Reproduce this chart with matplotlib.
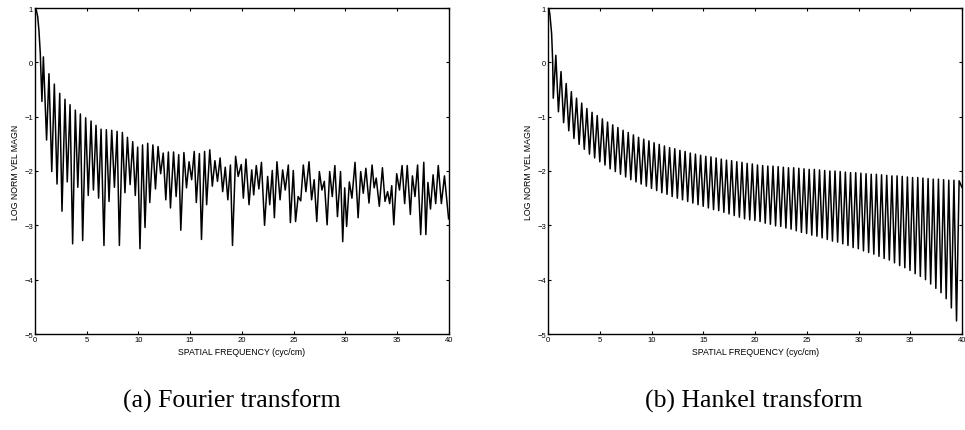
import numpy as np
import matplotlib
matplotlib.use("Agg")
import matplotlib.pyplot as plt

plt.rcParams["font.family"] = ["Liberation Sans", "DejaVu Sans"]

# ── Fourier transform panel: main lobe + local maxima / minima ───────────────
FT_LOBE_F = [0.0, 0.13, 0.26, 0.38, 0.51, 0.61]
FT_LOBE_V = [1.0, 0.96, 0.84, 0.59, 0.17, -0.39]

FT_PEAK_F = [0.81, 1.35, 1.87, 2.39, 2.90, 3.39, 3.90, 4.39, 4.90, 5.42,
             5.90, 6.39, 6.90, 7.42, 7.94, 8.45, 8.94, 9.45, 9.93, 10.4,
             10.9, 11.4, 11.9, 12.4, 12.9, 13.4, 13.9, 14.4, 14.9, 15.4,
             15.9, 16.4, 16.9, 17.4, 17.9, 18.4, 18.9, 19.4, 19.95, 20.4,
             20.96, 21.4, 21.9, 22.5, 22.95, 23.4, 23.95, 24.5, 24.98, 25.45,
             25.95, 26.5, 27.0, 27.5, 27.98, 28.5, 29.0, 29.55, 29.95, 30.4,
             30.95, 31.5, 32.0, 32.6, 33.0, 33.6, 34.1, 34.5, 34.98, 35.5,
             36.0, 36.5, 37.0, 37.6, 38.0, 38.5, 39.0, 39.6]
FT_PEAK_V = [0.10, -0.21, -0.40, -0.57, -0.68, -0.78, -0.88, -0.95, -1.02, -1.08,
             -1.16, -1.23, -1.24, -1.25, -1.27, -1.29, -1.38, -1.46, -1.56, -1.52,
             -1.49, -1.52, -1.55, -1.67, -1.65, -1.65, -1.70, -1.66, -1.83, -1.64,
             -1.68, -1.64, -1.61, -1.81, -1.76, -1.93, -1.89, -1.73, -1.88, -1.78,
             -1.98, -1.90, -1.84, -2.10, -1.99, -1.83, -1.98, -1.89, -1.99, -2.47,
             -1.89, -1.83, -2.16, -2.01, -2.19, -2.01, -1.90, -2.01, -2.31, -2.20,
             -1.84, -2.01, -1.95, -1.89, -2.13, -1.94, -2.38, -2.27, -2.05, -1.90,
             -1.90, -2.09, -1.89, -1.84, -2.21, -2.07, -1.90, -2.09]

FT_TROUGH_F = [0.67, 1.12, 1.62, 2.13, 2.61, 3.12, 3.64, 4.14, 4.61, 5.15,
               5.65, 6.15, 6.67, 7.16, 7.68, 8.16, 8.70, 9.20, 9.70, 10.15,
               10.64, 11.10, 11.65, 12.15, 12.65, 13.10, 13.65, 14.10, 14.65, 15.15,
               15.60, 16.10, 16.60, 17.15, 17.65, 18.15, 18.65, 19.10, 19.65, 20.15,
               20.70, 21.15, 21.65, 22.20, 22.70, 23.15, 23.70, 24.20, 24.70, 25.20,
               25.70, 26.20, 26.75, 27.25, 27.75, 28.25, 28.75, 29.25, 29.76, 30.14,
               30.65, 31.25, 31.75, 32.30, 32.80, 33.30, 33.85, 34.30, 34.70, 35.25,
               35.75, 36.30, 36.75, 37.30, 37.80, 38.25, 38.75, 39.30, 40.0]
FT_TROUGH_V = [-0.72, -1.43, -2.01, -2.24, -2.74, -2.20, -3.34, -2.30, -3.28, -2.45,
               -2.35, -2.50, -3.37, -2.56, -2.30, -3.37, -2.40, -2.25, -2.45, -3.43,
               -3.04, -2.58, -2.33, -2.05, -2.53, -2.68, -2.47, -3.09, -2.31, -2.16,
               -2.58, -3.26, -2.62, -2.28, -2.19, -2.38, -2.53, -3.37, -2.10, -2.50,
               -2.62, -2.44, -2.33, -3.00, -2.62, -2.86, -2.53, -2.35, -2.95, -2.93,
               -2.55, -2.38, -2.53, -2.93, -2.35, -2.99, -2.47, -2.84, -3.30, -3.02,
               -2.50, -2.86, -2.41, -2.59, -2.31, -2.65, -2.56, -2.60, -2.99, -2.35,
               -2.60, -2.80, -2.47, -3.17, -3.17, -2.70, -2.60, -2.60, -2.88]

# ── Hankel transform panel ───────────────────────────────────────────────────
HT_LOBE_F = [0.0, 0.08, 0.16, 0.32, 0.42]
HT_LOBE_V = [1.0, 0.97, 0.87, 0.53, 0.04]

HT_PEAK_START, HT_TROUGH_START, HT_SPACING = 0.73, 0.48, 0.5
HT_PEAK_V = [0.13, -0.17, -0.39, -0.54, -0.66, -0.75, -0.85, -0.92, -0.98, -1.04,
             -1.10, -1.15, -1.20, -1.25, -1.29, -1.335, -1.38, -1.415, -1.445, -1.48,
             -1.51, -1.54, -1.57, -1.59, -1.62, -1.64, -1.67, -1.69, -1.71, -1.73,
             -1.74, -1.76, -1.78, -1.80, -1.81, -1.83, -1.84, -1.86, -1.87, -1.89,
             -1.90, -1.91, -1.91, -1.92, -1.93, -1.94, -1.94, -1.95, -1.96, -1.97,
             -1.97, -1.98, -1.99, -2.00, -2.00, -2.01, -2.02, -2.03, -2.03, -2.04,
             -2.05, -2.06, -2.06, -2.07, -2.08, -2.09, -2.09, -2.10, -2.11, -2.12,
             -2.12, -2.13, -2.14, -2.15, -2.15, -2.16, -2.17, -2.17, -2.18]
HT_TROUGH_V = [-0.66, -0.91, -1.11, -1.26, -1.40, -1.51, -1.60, -1.69, -1.76, -1.83,
               -1.89, -1.96, -2.01, -2.06, -2.11, -2.16, -2.20, -2.24, -2.28, -2.32,
               -2.36, -2.40, -2.43, -2.47, -2.50, -2.53, -2.56, -2.59, -2.62, -2.65,
               -2.68, -2.71, -2.73, -2.76, -2.79, -2.82, -2.85, -2.88, -2.90, -2.91,
               -2.93, -2.96, -2.98, -3.01, -3.02, -3.05, -3.07, -3.10, -3.13, -3.15,
               -3.18, -3.20, -3.23, -3.26, -3.29, -3.31, -3.34, -3.37, -3.41, -3.43,
               -3.47, -3.50, -3.53, -3.57, -3.61, -3.64, -3.69, -3.74, -3.78, -3.83,
               -3.89, -3.94, -4.00, -4.08, -4.16, -4.24, -4.35, -4.52, -4.76]
HT_END_F, HT_END_V = 40.0, -2.30

XTICKS = [0, 5, 10, 15, 20, 25, 30, 35, 40]
YTICKS = [-5, -4, -3, -2, -1, 0, 1]
XLABEL = "SPATIAL FREQUENCY (cyc/cm)"
YLABEL = "LOG NORM VEL MAGN"
CAPTIONS = ["(a) Fourier transform", "(b) Hankel transform"]


def build_curve(lobe_f, lobe_v, ext_f, ext_v):
    f = np.asarray(ext_f, dtype=float)
    v = np.asarray(ext_v, dtype=float)
    order = np.argsort(f)
    return (np.concatenate([lobe_f, f[order]]),
            np.concatenate([lobe_v, v[order]]))


ft_f, ft_v = build_curve(FT_LOBE_F, FT_LOBE_V,
                         FT_PEAK_F + FT_TROUGH_F, FT_PEAK_V + FT_TROUGH_V)

ht_peak_f = HT_PEAK_START + HT_SPACING * np.arange(len(HT_PEAK_V))
ht_trough_f = HT_TROUGH_START + HT_SPACING * np.arange(len(HT_TROUGH_V))
ht_f, ht_v = build_curve(HT_LOBE_F, HT_LOBE_V,
                         list(ht_peak_f) + list(ht_trough_f) + [HT_END_F],
                         HT_PEAK_V + HT_TROUGH_V + [HT_END_V])

W, H = 965, 431
fig = plt.figure(figsize=(W / 100, H / 100), dpi=100)

panels = [(35, ft_f, ft_v, 232), (548.3, ht_f, ht_v, 754)]
for (left_px, f, v, cap_x), caption in zip(panels, CAPTIONS):
    ax = fig.add_axes([left_px / W, (H - 335) / H, 413.6 / W, 326 / H])
    ax.plot(f, v, color="black", linewidth=1.1, solid_joinstyle="round")
    ax.set_xlim(0, 40)
    ax.set_ylim(-5, 1)
    ax.set_xticks(XTICKS)
    ax.set_yticks(YTICKS)
    ax.tick_params(direction="in", length=2.5, width=0.8, labelsize=5.5,
                   top=True, right=True, pad=1.5)
    for sp in ax.spines.values():
        sp.set_linewidth(1.0)
    ax.set_xlabel(XLABEL, fontsize=6.3, labelpad=2.5)
    ax.set_ylabel(YLABEL, fontsize=6.3, labelpad=3)
    fig.text(cap_x / W, 1 - 401 / H, caption, ha="center", va="center",
             fontsize=18.5, family=["Liberation Serif", "DejaVu Serif"])

fig.savefig("out.png", dpi=100)
